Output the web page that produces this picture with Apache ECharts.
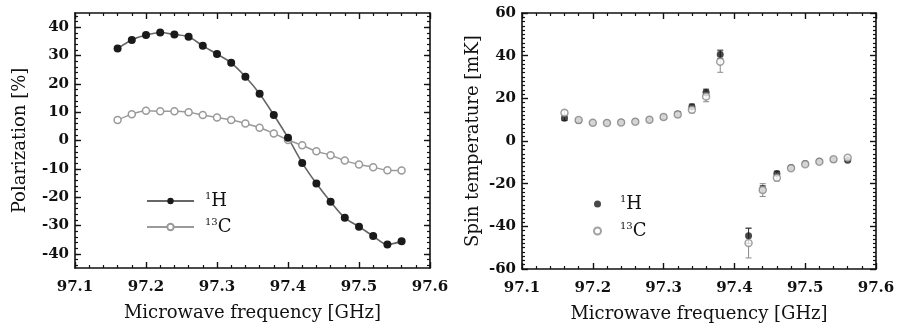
<!DOCTYPE html>
<html>
<head>
<meta charset="utf-8">
<script src="https://cdn.jsdelivr.net/npm/echarts@6/dist/echarts.min.js"></script>
<style>
  html, body { margin: 0; padding: 0; background: #fff; }
  #chart { width: 898px; height: 328px; }
</style>
</head>
<body>
<div id="chart"></div>
<script>
// Left panel: polarization vs microwave frequency
const polFreq = [97.16, 97.18, 97.20, 97.22, 97.24, 97.26, 97.28, 97.30, 97.32, 97.34, 97.36,
                 97.38, 97.40, 97.42, 97.44, 97.46, 97.48, 97.50, 97.52, 97.54, 97.56];
const polH = [32.5, 35.5, 37.2, 38.1, 37.4, 36.6, 33.4, 30.5, 27.4, 22.5, 16.5,
              9.0, 1.0, -7.9, -15.2, -21.6, -27.3, -30.4, -33.7, -36.7, -35.6];
const polC = [7.2, 9.3, 10.5, 10.3, 10.3, 10.0, 9.0, 8.1, 7.2, 6.0, 4.5,
              2.5, 0.2, -1.7, -3.8, -5.2, -7.1, -8.5, -9.4, -10.5, -10.6];

// Right panel: spin temperature vs microwave frequency
const tsFreq = [97.16, 97.18, 97.20, 97.22, 97.24, 97.26, 97.28, 97.30, 97.32, 97.34, 97.36, 97.38,
                97.42, 97.44, 97.46, 97.48, 97.50, 97.52, 97.54, 97.56];
const tsH = [10.7, 9.6, 8.5, 8.5, 8.8, 9.1, 10.0, 11.2, 12.7, 16.1, 22.8, 40.6,
             -44.4, -22.5, -15.2, -12.4, -10.6, -9.5, -8.7, -9.0];
const tsHErr = [1.0, 0.5, 0.5, 0.5, 0.5, 0.5, 0.5, 0.8, 1.0, 1.2, 1.5, 2.0,
                3.5, 1.5, 1.0, 0.8, 0.6, 0.5, 0.5, 0.5];
const tsC = [13.2, 9.8, 8.6, 8.4, 8.7, 9.0, 10.0, 11.2, 12.4, 14.7, 20.9, 37.2,
             -47.8, -23.0, -17.2, -12.8, -10.9, -9.7, -8.6, -7.9];
const tsCErr = [1.0, 0.8, 0.8, 0.8, 0.8, 0.8, 0.8, 1.0, 1.2, 1.5, 2.5, 5.0,
                7.0, 3.0, 1.5, 1.0, 0.8, 0.8, 0.8, 0.8];

// Tick labels
const polTicks = [-40, -30, -20, -10, 0, 10, 20, 30, 40];
const polMinorTicks = [];
for (let v = -44; v <= 44; v += 2) polMinorTicks.push(v);

const FONT = "DejaVu Serif";
const INK = "#111";

const pairs = (xs, ys) => xs.map((x, i) => [x, ys[i]]);
const errs = (xs, ys, es) => xs.map((x, i) => [x, ys[i] - es[i], ys[i] + es[i]]);

const legendFmt = (name) => (name === "1H" ? "{sup|1}{b|H}" : "{sup|13}{b|C}");
const legendRich = {
   sup: { fontFamily: FONT, fontSize: 10, verticalAlign: "top", lineHeight: 20, color: INK },
   b: { fontFamily: FONT, fontSize: 18, lineHeight: 20, color: INK },
};

// Error bar drawer
const errorBar = (color) => (params, api) => {
   const x = api.value(0);
   const lo = api.coord([x, api.value(1)]);
   const hi = api.coord([x, api.value(2)]);
   const w = 3;
   const style = { stroke: color, lineWidth: 1 };
   return {
      type: "group",
      children: [
         { type: "line", shape: { x1: hi[0], y1: hi[1], x2: lo[0], y2: lo[1] }, style },
         { type: "line", shape: { x1: hi[0] - w, y1: hi[1], x2: hi[0] + w, y2: hi[1] }, style },
         { type: "line", shape: { x1: lo[0] - w, y1: lo[1], x2: lo[0] + w, y2: lo[1] }, style },
      ],
   };
};

const axisLine = { show: true, onZero: false, lineStyle: { color: INK, width: 1.6 } };
const tickLabel = { fontFamily: FONT, fontSize: 15, fontWeight: "bold", color: INK };
const nameStyle = { fontFamily: FONT, fontSize: 18, color: INK };

// x axis (frequency) for a grid, bottom or top
const freqAxis = (grid, pos, withLabels) => ({
   type: "value",
   gridIndex: grid,
   position: pos,
   min: 97.1,
   max: 97.6,
   interval: 0.1,
   axisLine,
   axisTick: { show: true, inside: true, length: 6, lineStyle: { color: INK, width: 1.4 } },
   minorTick: { show: true, splitNumber: 5, length: 3, lineStyle: { color: INK, width: 1.2 } },
   splitLine: { show: false },
   axisLabel: withLabels ? { ...tickLabel, margin: 12 } : { show: false },
   name: withLabels ? "Microwave frequency [GHz]" : "",
   nameLocation: "middle",
   nameGap: 36,
   nameTextStyle: nameStyle,
});

const option = {
   animation: false,
   backgroundColor: "#fff",
   grid: [
      { left: 75, right: 468, top: 13, bottom: 60 },
      { left: 522, right: 22, top: 13, bottom: 58 },
   ],
   xAxis: [
      freqAxis(0, "bottom", true),
      freqAxis(0, "top", false),
      freqAxis(1, "bottom", true),
      freqAxis(1, "top", false),
   ],
   yAxis: [
      {
         type: "value", gridIndex: 0, position: "left", min: -45, max: 45,
         axisLine,
         axisTick: { show: true, inside: true, length: 6, customValues: polTicks, lineStyle: { color: INK, width: 1.4 } },
         axisLabel: { ...tickLabel, margin: 6, customValues: polTicks },
         splitLine: { show: false },
         name: "Polarization [%]", nameLocation: "middle", nameGap: 46, nameRotate: 90,
         nameTextStyle: nameStyle,
      },
      {
         type: "value", gridIndex: 0, position: "left", min: -45, max: 45,
         axisLine: { show: false },
         axisTick: { show: true, inside: true, length: 3, customValues: polMinorTicks, lineStyle: { color: INK, width: 1.2 } },
         axisLabel: { show: false },
         splitLine: { show: false },
      },
      {
         type: "value", gridIndex: 0, position: "right", min: -45, max: 45,
         axisLine,
         axisTick: { show: true, inside: true, length: 6, customValues: polTicks, lineStyle: { color: INK, width: 1.4 } },
         axisLabel: { show: false },
         splitLine: { show: false },
      },
      {
         type: "value", gridIndex: 0, position: "right", min: -45, max: 45,
         axisLine: { show: false },
         axisTick: { show: true, inside: true, length: 3, customValues: polMinorTicks, lineStyle: { color: INK, width: 1.2 } },
         axisLabel: { show: false },
         splitLine: { show: false },
      },
      {
         type: "value", gridIndex: 1, position: "left", min: -60, max: 60, interval: 20,
         axisLine,
         axisTick: { show: true, inside: true, length: 6, lineStyle: { color: INK, width: 1.4 } },
         minorTick: { show: true, splitNumber: 10, length: 3, lineStyle: { color: INK, width: 1.2 } },
         axisLabel: { ...tickLabel, margin: 6 },
         splitLine: { show: false },
         name: "Spin temperature [mK]", nameLocation: "middle", nameGap: 40, nameRotate: 90,
         nameTextStyle: nameStyle,
      },
      {
         type: "value", gridIndex: 1, position: "right", min: -60, max: 60, interval: 20,
         axisLine,
         axisTick: { show: true, inside: true, length: 6, lineStyle: { color: INK, width: 1.4 } },
         minorTick: { show: true, splitNumber: 10, length: 3, lineStyle: { color: INK, width: 1.2 } },
         axisLabel: { show: false },
         splitLine: { show: false },
      },
   ],
   legend: [
      {
         data: ["1H", "13C"],
         orient: "vertical",
         left: 141, top: 186,
         itemWidth: 47, itemHeight: 8, itemGap: 7,
         formatter: legendFmt,
         textStyle: { rich: legendRich, padding: [0, 0, 0, 6] },
         selectedMode: false,
      },
      {
         data: ["1H ", "13C "],
         orient: "vertical",
         left: 588, top: 189,
         itemWidth: 7, itemHeight: 7, itemGap: 8,
         formatter: (n) => legendFmt(n.trim()),
         textStyle: { rich: legendRich, padding: [0, 0, 0, 14] },
         selectedMode: false,
      },
   ],
   series: [
      {
         name: "13C", type: "line", xAxisIndex: 0, yAxisIndex: 0,
         data: pairs(polFreq, polC),
         smooth: 0.3,
         symbol: "circle", symbolSize: 7,
         lineStyle: { color: "#9a9a9a", width: 1.5 },
         itemStyle: { color: "#fff", borderColor: "#9a9a9a", borderWidth: 1.5 },
      },
      {
         name: "1H", type: "line", xAxisIndex: 0, yAxisIndex: 0,
         data: pairs(polFreq, polH),
         smooth: 0.3,
         symbol: "circle", symbolSize: 8,
         lineStyle: { color: "#666", width: 1.6 },
         itemStyle: { color: "#1a1a1a", borderColor: "#1a1a1a", borderWidth: 0 },
      },
      {
         name: "13C err", type: "custom", xAxisIndex: 2, yAxisIndex: 4,
         renderItem: errorBar("#8a8a8a"),
         encode: { x: 0, y: [1, 2] },
         data: errs(tsFreq, tsC, tsCErr),
         z: 2,
      },
      {
         name: "1H err", type: "custom", xAxisIndex: 2, yAxisIndex: 4,
         renderItem: errorBar("#333"),
         encode: { x: 0, y: [1, 2] },
         data: errs(tsFreq, tsH, tsHErr),
         z: 2,
      },
      {
         name: "1H ", type: "scatter", xAxisIndex: 2, yAxisIndex: 4,
         data: pairs(tsFreq, tsH),
         symbol: "circle", symbolSize: 7,
         itemStyle: { color: "#1a1a1a" },
         z: 3,
      },
      {
         name: "13C ", type: "scatter", xAxisIndex: 2, yAxisIndex: 4,
         data: pairs(tsFreq, tsC),
         symbol: "circle", symbolSize: 7,
         itemStyle: { color: "#fff", borderColor: "#8a8a8a", borderWidth: 1.5 },
         z: 4,
      },
   ],
};

const chart = echarts.init(document.getElementById("chart"));
chart.setOption(option);
</script>
</body>
</html>
